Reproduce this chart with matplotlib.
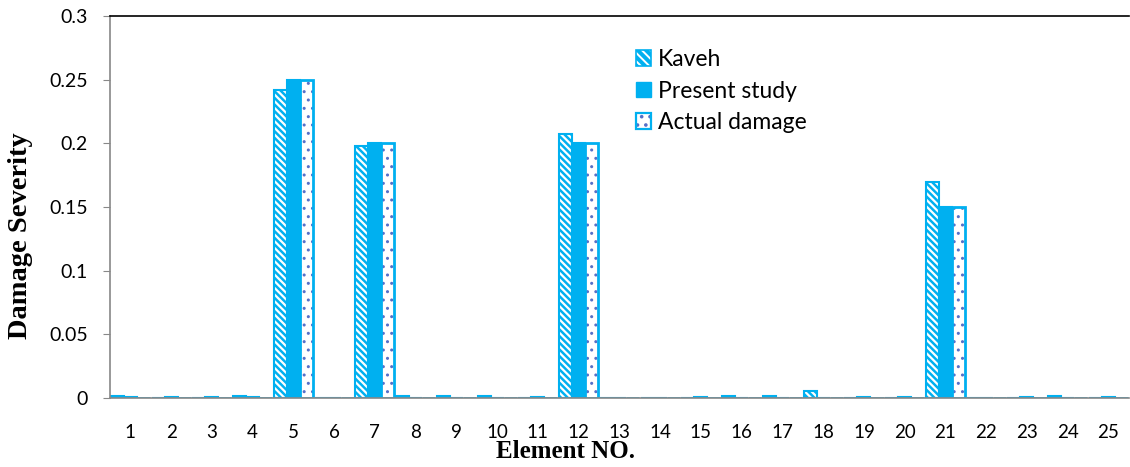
import numpy as np
import matplotlib
matplotlib.use("Agg")
from matplotlib import pyplot as plt
from matplotlib.patches import Patch

# data
elements = list(range(1, 26))
kaveh = [0.0015, 0.0003, 0.0003, 0.0015, 0.242, 0.0, 0.198, 0.0018, 0.0018, 0.0018,
         0.0003, 0.207, 0.0, 0.0, 0.0003, 0.0018, 0.0018, 0.0055, 0.0, 0.0,
         0.170, 0.0, 0.0, 0.0015, 0.0]
present = [0.0008, 0.0005, 0.0005, 0.0005, 0.250, 0.0, 0.200, 0.0, 0.0, 0.0,
           0.0005, 0.200, 0.0, 0.0, 0.0005, 0.0, 0.0, 0.0, 0.0005, 0.0005,
           0.150, 0.0, 0.0005, 0.0, 0.0005]
actual = [0.0, 0.0, 0.0, 0.0, 0.250, 0.0, 0.200, 0.0, 0.0, 0.0,
          0.0, 0.200, 0.0, 0.0, 0.0, 0.0, 0.0, 0.0, 0.0, 0.0,
          0.150, 0.0, 0.0, 0.0, 0.0]
yticks = [0, 0.05, 0.1, 0.15, 0.2, 0.25, 0.3]
ytick_labels = ["0", "0.05", "0.1", "0.15", "0.2", "0.25", "0.3"]

blue = "#00B0F0"
dot = "#5570C8"

fig = plt.figure(figsize=(11.3, 4.67), dpi=100)
ax = fig.add_axes([0.0973, 0.1478, 0.9017, 0.8179])

x = np.arange(len(elements))
w = 0.32

# Kaveh: blue with white diagonal stripes
plt.rcParams["hatch.linewidth"] = 1.6
ax.bar(x - w, kaveh, w, color=blue, edgecolor="white", hatch="\\\\\\\\\\", linewidth=0)
ax.bar(x - w, kaveh, w, fill=False, edgecolor=blue, linewidth=1.5)
# present study: solid
ax.bar(x, present, w, color=blue, edgecolor=blue, linewidth=1.5)
# actual damage: white with small dots
plt.rcParams["hatch.linewidth"] = 1.0
ax.bar(x + w, actual, w, color="white", edgecolor=dot, hatch="..", linewidth=0)
ax.bar(x + w, actual, w, fill=False, edgecolor=blue, linewidth=2.0)

ax.set_xlim(-0.5, len(elements) - 0.5)
ax.set_ylim(0, 0.3)
ax.set_xticks(x)
ax.set_xticklabels([str(e) for e in elements], fontsize=13.5, family="Lato")
ax.set_yticks(yticks)
ax.set_yticklabels(ytick_labels, fontsize=14, family="Lato")
ax.tick_params(axis="x", length=0, pad=19)
ax.tick_params(axis="y", length=5, color="#888888", pad=11)

for s in ["left", "bottom"]:
    ax.spines[s].set_color("#888888")
    ax.spines[s].set_linewidth(1.2)
ax.spines["top"].set_color("black")
ax.spines["top"].set_linewidth(1.2)
ax.spines["right"].set_visible(False)

fig.text(565 / 1130, 1 - 452 / 467, "Element NO.", fontsize=18, fontweight="bold",
         family="Liberation Serif", ha="center", va="center")
fig.text(21 / 1130, 1 - 236 / 467, "Damage Severity", fontsize=20.5, fontweight="bold",
         family="Liberation Serif", ha="center", va="center", rotation=90)

plt.rcParams["hatch.linewidth"] = 1.4
handles = [
    (Patch(facecolor=blue, edgecolor="white", hatch="\\\\\\\\", linewidth=0),
     Patch(fill=False, edgecolor=blue, linewidth=1.2)),
    Patch(facecolor=blue, edgecolor=blue),
    (Patch(facecolor="white", edgecolor=dot, hatch="..", linewidth=0),
     Patch(fill=False, edgecolor=blue, linewidth=1.6)),
]
ax.legend(handles, ["Kaveh", "Present study", "Actual damage"],
          loc="upper left", bbox_to_anchor=(0.516, 0.913), frameon=False,
          borderpad=0, borderaxespad=0,
          prop={"family": "Lato", "size": 16.5}, handlelength=0.68,
          handleheight=0.68, handletextpad=0.3, labelspacing=0.45)

plt.savefig("out.png", dpi=100)
